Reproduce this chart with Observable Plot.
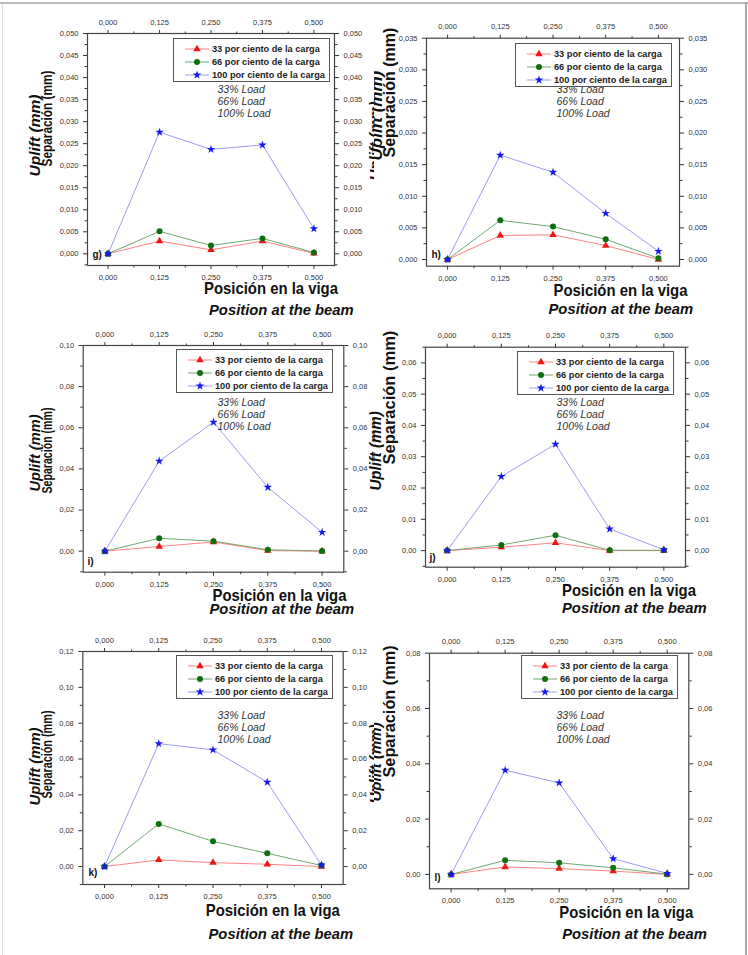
<!DOCTYPE html>
<html>
<head>
<meta charset="utf-8">
<script src="https://cdn.jsdelivr.net/npm/d3@7"></script>
<script src="https://cdn.jsdelivr.net/npm/@observablehq/plot@0.6"></script>
<style>
  body { margin: 0; background: #fff; }
  #fig { position: relative; width: 748px; height: 955px; overflow: hidden; background: #fff;
         font-family: "Liberation Sans", Arial, sans-serif; }
  .panel { position: absolute; overflow: hidden; }
  .panel svg { display: block; }
  .legend { position: absolute; width: 157px; height: 44px; box-sizing: border-box;
            border: 1px solid #555; background: #fff; }
  .lrow { position: absolute; left: 10px; height: 12px; display: flex; align-items: center; white-space: nowrap; }
  .lrow span { font-weight: bold; font-size: 9.2px; color: #222; margin-left: 2px; }
  .edge { position: absolute; }
</style>
</head>
<body>
<div id="fig"></div>
<script>
// Positions along the beam (m) and series labels
const positions = [0, 0.125, 0.25, 0.375, 0.5];
const seriesNames = ["33 por ciento de la carga", "66 por ciento de la carga", "100 por ciento de la carga"];
const loadNotes = ["33% Load", "66% Load", "100% Load"];

// Uplift (mm) for each load case, one group per panel
const g33 = [0, 0.0029, 0.0009, 0.0029, 0.0001];
const g66 = [0, 0.0051, 0.0019, 0.0035, 0.0003];
const g100 = [0, 0.0276, 0.0237, 0.0247, 0.0057];

const h33 = [0, 0.0038, 0.0039, 0.0022, 0.0000];
const h66 = [0, 0.0062, 0.0052, 0.0032, 0.0002];
const h100 = [0, 0.0165, 0.0138, 0.0073, 0.0013];

const i33 = [0, 0.0023, 0.0045, 0.0003, 0.0000];
const i66 = [0, 0.0063, 0.0049, 0.0007, 0.0001];
const i100 = [0, 0.0438, 0.0627, 0.0311, 0.0092];

const j33 = [0, 0.0011, 0.0025, 0.0000, 0.0000];
const j66 = [0, 0.0018, 0.0049, 0.0001, 0.0001];
const j100 = [0, 0.0237, 0.0340, 0.0069, 0.0003];

const k33 = [0, 0.0037, 0.0022, 0.0013, 0.0000];
const k66 = [0, 0.0238, 0.0141, 0.0074, 0.0006];
const k100 = [0, 0.0686, 0.0651, 0.0471, 0.0009];

const l33 = [0, 0.0027, 0.0021, 0.0012, 0.0000];
const l66 = [0, 0.0051, 0.0042, 0.0024, 0.0001];
const l100 = [0, 0.0377, 0.0331, 0.0057, 0.0004];

// Y-axis tick values per panel
const gTicks = [0, 0.005, 0.01, 0.015, 0.02, 0.025, 0.03, 0.035, 0.04, 0.045, 0.05];
const hTicks = [0, 0.005, 0.01, 0.015, 0.02, 0.025, 0.03, 0.035];
const iTicks = [0, 0.02, 0.04, 0.06, 0.08, 0.10];
const jTicks = [0, 0.01, 0.02, 0.03, 0.04, 0.05, 0.06];
const kTicks = [0, 0.02, 0.04, 0.06, 0.08, 0.10, 0.12];
const lTicks = [0, 0.02, 0.04, 0.06, 0.08];

// Styling
const lineColors = ["#ff7474", "#5f9f5f", "#9090f0"];
const markColors = ["#f01414", "#0c700c", "#1818f0"];
const symbols = ["triangle", "circle", "star"];
const d3Symbols = [d3.symbolTriangle, d3.symbolCircle, d3.symbolStar];
const radii = [2.8, 3, 2.7];
const font = "'Liberation Sans', Arial, sans-serif";

// Panel geometry (page coordinates): margins [top, right, bottom, left]
// sep / up: [x, y, font size, fitted length] of the rotated axis titles
const layout = [
  { tag: "g)", left: 0, top: 0, w: 374, h: 320, m: [33, 40, 55, 87], y: [-0.00265, 0.05], dec: 3, ticks: gTicks,
    series: [g33, g66, g100], tagAt: [92, 254], legend: [173, 38], notes: [217, 89],
    xTitle: [203.5, 288], xSub: [208.5, 310], sep: [47, 166, 15.5, 96], up: [35, 176, 15, 82], upRight: [375, 180, 15] },
  { tag: "h)", left: 374, top: 0, w: 374, h: 320, m: [37.7, 69, 54.3, 52], y: [-0.00106, 0.035], dec: 3, ticks: hTicks,
    series: [h33, h66, h100], tagAt: [431, 254], legend: [515, 43], notes: [556, 89.3],
    xTitle: [553, 290], xSub: [548, 309], sep: [389, 157, 16], up: [376, 160, 17] },
  { tag: "i)", left: 0, top: 320, w: 374, h: 300, m: [25, 30.7, 48.3, 82.7], y: [-0.0102, 0.10], dec: 2, ticks: iTicks,
    series: [i33, i66, i100], tagAt: [87, 561], legend: [176, 349], notes: [217, 402],
    xTitle: [212, 595.5], xSub: [209, 609], sep: [47, 493, 15, 86], up: [35, 491, 15, 77], upRight: [375, 490, 15] },
  { tag: "j)", left: 374, top: 320, w: 374, h: 300, m: [26.7, 63, 53.3, 51], y: [-0.0053, 0.065], dec: 2, ticks: jTicks,
    series: [j33, j66, j100], tagAt: [429, 557], legend: [517, 351], notes: [556, 402],
    xTitle: [561.5, 590], xSub: [561.5, 607.5], sep: [389, 464, 16.5], up: [376, 490, 15] },
  { tag: "k)", left: 0, top: 620, w: 374, h: 335, m: [31, 31.3, 71, 82.3], y: [-0.01, 0.12], dec: 2, ticks: kTicks,
    series: [k33, k66, k100], tagAt: [88, 872], legend: [176, 655], notes: [217, 714.7],
    xTitle: [205.3, 910.7], xSub: [208, 934], sep: [47, 798, 15, 88], up: [35, 805, 15, 78], upRight: [375, 803, 15] },
  { tag: "l)", left: 374, top: 620, w: 374, h: 335, m: [32.7, 59.7, 66.7, 55], y: [-0.0052, 0.08], dec: 2, ticks: lTicks,
    series: [l33, l66, l100], tagAt: [434, 877], legend: [521, 655], notes: [556, 714.7],
    xTitle: [558.7, 912.7], xSub: [561.7, 934], sep: [389, 777, 16.3], up: [376, 801, 15] }
];

const fmt = dec => d => d3.format(`.${dec}f`)(d).replace(".", ",");

// half-step minor ticks inside a domain
function minorTicks(major, domain) {
  const step = major[1] - major[0];
  const out = [];
  for (let v = major[0] - step / 2; v >= domain[0]; v -= step) out.push(v);
  for (const m of major) { const v = m + step / 2; if (v <= domain[1] + 1e-12) out.push(v); }
  return out;
}

const fig = document.getElementById("fig");

for (const p of layout) {
  const [mt, mr, mb, ml] = p.m;
  const L = x => x - p.left, T = y => y - p.top;
  const at = (text, x, y, o) => Plot.text([text], {
    text: d => d, frameAnchor: "top-left", dx: L(x) - ml, dy: T(y) - mt,
    lineAnchor: "middle", fill: "#111", ...o
  });
  const xDomain = [-0.05, 0.55];
  const xMinor = minorTicks(positions, xDomain);
  const yMinor = minorTicks(p.ticks, p.y);
  const blank = () => "";
  const axisStyle = { fontSize: 7.5, fill: "#333", stroke: "#333", label: null };

  const marks = [
    Plot.axisX({ anchor: "bottom", ticks: positions, tickFormat: fmt(3), tickSize: 4, ...axisStyle }),
    Plot.axisX({ anchor: "top", ticks: positions, tickFormat: fmt(3), tickSize: 4, ...axisStyle }),
    Plot.axisX({ anchor: "bottom", ticks: xMinor, tickFormat: blank, tickSize: 2.5, ...axisStyle }),
    Plot.axisX({ anchor: "top", ticks: xMinor, tickFormat: blank, tickSize: 2.5, ...axisStyle }),
    Plot.axisY({ anchor: "left", ticks: p.ticks, tickFormat: fmt(p.dec), tickSize: 4, ...axisStyle }),
    Plot.axisY({ anchor: "right", ticks: p.ticks, tickFormat: fmt(p.dec), tickSize: 4, ...axisStyle }),
    Plot.axisY({ anchor: "left", ticks: yMinor, tickFormat: blank, tickSize: 2.5, ...axisStyle }),
    Plot.axisY({ anchor: "right", ticks: yMinor, tickFormat: blank, tickSize: 2.5, ...axisStyle }),
    Plot.frame({ stroke: "#444", strokeWidth: 1.2 })
  ];

  const rows = p.series.map((vals, k) => positions.map((x, i) => ({ x, y: vals[i], s: seriesNames[k] })));
  rows.forEach((r, k) => marks.push(Plot.line(r, { x: "x", y: "y", stroke: lineColors[k], strokeWidth: 0.9 })));
  rows.forEach((r, k) => marks.push(Plot.dot(r, { x: "x", y: "y", symbol: symbols[k], fill: markColors[k], r: radii[k], stroke: "none" })));

  // panel tag and load notes
  marks.push(at(p.tag, p.tagAt[0], p.tagAt[1], { textAnchor: "start", fontWeight: "bold", fontSize: 10 }));
  loadNotes.forEach((t, k) => marks.push(at(t, p.notes[0], p.notes[1] + k * 12,
    { textAnchor: "start", fontStyle: "italic", fontSize: 10.5, fill: "#333" })));

  // axis titles
  marks.push(at("Posición en la viga", p.xTitle[0], p.xTitle[1], { fontWeight: "bold", fontSize: 16.5 }));
  marks.push(at("Position at the beam", p.xSub[0], p.xSub[1], { fontWeight: "bold", fontStyle: "italic", fontSize: 14.8 }));
  marks.push(at("Separación (mm)", p.sep[0], p.sep[1], { fontWeight: "bold", fontSize: p.sep[2], rotate: -90 }));
  marks.push(at("Uplift (mm)", p.up[0], p.up[1], { fontWeight: "bold", fontStyle: "italic", fontSize: p.up[2], rotate: -90 }));
  if (p.upRight) marks.push(at("Uplift (mm)", p.upRight[0], p.upRight[1],
    { fontWeight: "bold", fontStyle: "italic", fontSize: p.upRight[2], rotate: -90 }));

  const svg = Plot.plot({
    width: p.w, height: p.h,
    marginTop: mt, marginRight: mr, marginBottom: mb, marginLeft: ml,
    x: { domain: xDomain },
    y: { domain: p.y },
    style: { fontFamily: font, fontSize: "7.5px", color: "#333", background: "transparent", overflow: "visible" },
    marks
  });

  // the titles are set in a condensed cut: fit them to their drawn lengths
  const texts = [...svg.querySelectorAll("text")];
  const fit = (content, len, which = 0) => {
    if (!len) return;
    const t = texts.filter(e => e.textContent === content)[which];
    if (t) { t.setAttribute("textLength", len); t.setAttribute("lengthAdjust", "spacingAndGlyphs"); }
  };
  fit("Posición en la viga", 134);
  fit("Separación (mm)", p.sep[3]);
  fit("Uplift (mm)", p.up[3]);

  const box = document.createElement("div");
  box.className = "panel";
  box.style.cssText = `left:${p.left}px;top:${p.top}px;width:${p.w}px;height:${p.h}px;`;
  box.append(svg);

  // legend: line + marker swatch per load case
  const leg = document.createElement("div");
  leg.className = "legend";
  leg.style.left = `${L(p.legend[0])}px`;
  leg.style.top = `${T(p.legend[1])}px`;
  seriesNames.forEach((name, k) => {
    const row = document.createElement("div");
    row.className = "lrow";
    row.style.top = `${3.5 + k * 13}px`;
    const sym = d3.symbol(d3Symbols[k], Math.PI * radii[k] * radii[k])();
    row.innerHTML = `<svg width="26" height="12"><line x1="1" x2="25" y1="6" y2="6" stroke="${lineColors[k]}" stroke-width="0.9"/>` +
      `<path transform="translate(13,6)" d="${sym}" fill="${markColors[k]}"/></svg><span>${name}</span>`;
    leg.append(row);
  });
  box.append(leg);
  fig.append(box);
}

// outer frame of the figure
const edges = [
  "left:0;top:2px;width:748px;height:2px;background:#b8b8b8;",
  "left:2px;top:4px;width:1px;height:951px;background:#dcdcdc;",
  "left:745px;top:2px;width:1.5px;height:953px;background:#a8a8a8;"
];
edges.forEach(css => { const e = document.createElement("div"); e.className = "edge"; e.style.cssText = css; fig.append(e); });
</script>
</body>
</html>
